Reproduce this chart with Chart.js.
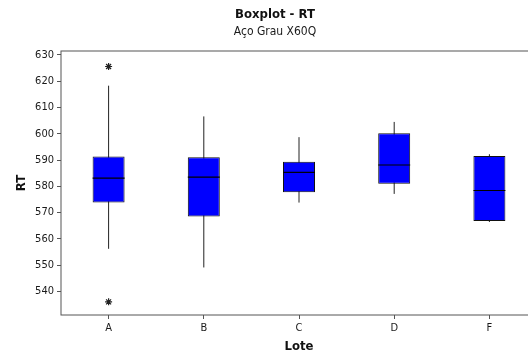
<!DOCTYPE html>
<html>
<head>
<meta charset="utf-8">
<script src="https://cdn.jsdelivr.net/npm/chart.js@4/dist/chart.umd.min.js"></script>
<style>
  html, body { margin: 0; padding: 0; background: #fff; overflow: hidden; }
  #wrap { width: 528px; height: 356px; overflow: hidden; }
</style>
</head>
<body>
<div id="wrap"><canvas id="boxChart" width="548" height="356"></canvas></div>
<script>
// Dados do boxplot por lote
const lotes = ['A', 'B', 'C', 'D', 'F'];
const q1 = [573.8, 568.5, 577.7, 581.0, 566.8];
const q3 = [591.3, 591.1, 589.3, 600.2, 591.5];
const mediana = [583.1, 583.5, 585.3, 588.1, 578.4];
const bigodeMin = [556.2, 549.1, 573.8, 577.1, 566.4];
const bigodeMax = [618.3, 606.6, 598.7, 604.5, 592.2];

// Pontos atípicos (*)
const outlierLote = ['A', 'A'];
const outlierRT = [625.6, 536.0];

// Marcas do eixo Y
const ticksRT = [540, 550, 560, 570, 580, 590, 600, 610, 620, 630];

const fonte = "'DejaVu Sans Condensed', 'DejaVu Sans', sans-serif";
const corTexto = '#1a1a1a';
const corEixo = '#555';

// Moldura, bigodes e medianas desenhados com as escalas do gráfico
const boxplotPlugin = {
    id: 'boxplotExtras',
    beforeDatasetsDraw(chart) {
        const ctx = chart.ctx;
        const x = chart.scales.x;
        const y = chart.scales.y;
        ctx.save();
        ctx.strokeStyle = '#222';
        ctx.lineWidth = 1;
        lotes.forEach((l, i) => {
            const px = x.getPixelForValue(i);
            ctx.beginPath();
            ctx.moveTo(px, y.getPixelForValue(bigodeMax[i]));
            ctx.lineTo(px, y.getPixelForValue(bigodeMin[i]));
            ctx.stroke();
        });
        ctx.restore();
    },
    afterDatasetsDraw(chart) {
        const ctx = chart.ctx;
        const y = chart.scales.y;
        const area = chart.chartArea;
        const barras = chart.getDatasetMeta(0).data;
        ctx.save();
        ctx.strokeStyle = '#000';
        ctx.lineWidth = 1.2;
        barras.forEach((bar, i) => {
            const py = y.getPixelForValue(mediana[i]);
            ctx.beginPath();
            ctx.moveTo(bar.x - bar.width / 2, py);
            ctx.lineTo(bar.x + bar.width / 2, py);
            ctx.stroke();
        });
        // moldura da área do gráfico
        ctx.lineWidth = 1;
        ctx.strokeStyle = corEixo;
        ctx.strokeRect(area.left, area.top, area.right - area.left, area.bottom - area.top);
        ctx.restore();
    }
};

const ctx = document.getElementById('boxChart').getContext('2d');
const boxChart = new Chart(ctx, {
    type: 'bar',
    data: {
        labels: lotes,
        datasets: [{
            label: 'RT',
            data: q1.map((v, i) => [v, q3[i]]),
            backgroundColor: '#0000FF',
            borderColor: '#111',
            borderWidth: 1,
            borderSkipped: false,
            categoryPercentage: 1,
            barPercentage: 0.336
        }, {
            type: 'scatter',
            label: 'Outliers',
            data: outlierLote.map((l, i) => ({ x: l, y: outlierRT[i] })),
            pointStyle: 'star',
            radius: 3.5,
            borderColor: '#222',
            borderWidth: 1.2,
            backgroundColor: '#222'
        }]
    },
    options: {
        responsive: false,
        devicePixelRatio: 1,
        animation: false,
        layout: { padding: { left: 13, right: 11, top: 7, bottom: 0 } },
        plugins: {
            legend: { display: false },
            tooltip: { enabled: false },
            title: {
                display: true,
                text: 'Boxplot - RT',
                color: '#111',
                font: { family: fonte, size: 13, weight: 'bold' },
                padding: { top: 0, bottom: 2 }
            },
            subtitle: {
                display: true,
                text: 'Aço Grau X60Q',
                color: '#1a1a1a',
                font: { family: fonte, size: 12 },
                padding: { top: 0, bottom: 12 }
            }
        },
        scales: {
            x: {
                type: 'category',
                offset: true,
                grid: { offset: false, drawOnChartArea: false, tickLength: 4, color: corEixo },
                border: { display: false },
                ticks: { color: corTexto, font: { family: fonte, size: 11 }, padding: 3 },
                title: {
                    display: true,
                    text: 'Lote',
                    color: '#111',
                    font: { family: fonte, size: 13, weight: 'bold' },
                    padding: { top: 0, bottom: 2 }
                },
                afterFit(scale) { scale.height = 41; }
            },
            y: {
                min: 531,
                max: 631.5,
                grid: { drawOnChartArea: false, tickLength: 4, color: corEixo },
                border: { display: false },
                ticks: { color: corTexto, font: { family: fonte, size: 11 }, padding: 3 },
                afterBuildTicks(scale) { scale.ticks = ticksRT.map(v => ({ value: v })); },
                title: {
                    display: true,
                    text: 'RT',
                    color: '#111',
                    font: { family: fonte, size: 13, weight: 'bold' },
                    padding: { top: 1, bottom: 0 }
                },
                afterFit(scale) { scale.width = 48; }
            }
        }
    },
    plugins: [boxplotPlugin]
});
</script>
</body>
</html>
